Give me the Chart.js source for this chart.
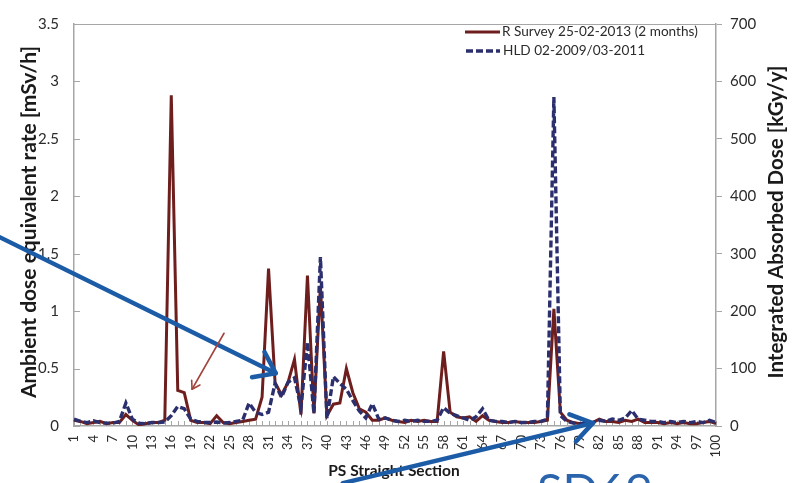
<!DOCTYPE html>
<html>
<head>
<meta charset="utf-8">
<script src="https://cdn.jsdelivr.net/npm/chart.js@4/dist/chart.umd.min.js"></script>
<style>
  html, body { margin: 0; padding: 0; background: #ffffff; }
  #wrap { width: 792px; height: 483px; position: relative; }
</style>
</head>
<body>
<div id="wrap"><canvas id="c" width="792" height="483"></canvas></div>
<script>
// PS straight sections 1..100
const sections = Array.from({ length: 100 }, (_, i) => String(i + 1));

// Ambient dose equivalent rate, radiation survey 25-02-2013 [mSv/h]
const rSurvey = [
  0.05, 0.04, 0.02, 0.03, 0.04, 0.02, 0.03, 0.03, 0.10, 0.05,
  0.01, 0.02, 0.03, 0.03, 0.05, 2.88, 0.31, 0.29, 0.05, 0.03,
  0.03, 0.02, 0.09, 0.03, 0.02, 0.03, 0.04, 0.05, 0.06, 0.25,
  1.37, 0.38, 0.27, 0.38, 0.58, 0.10, 1.31, 0.11, 1.22, 0.09,
  0.19, 0.20, 0.50, 0.29, 0.15, 0.12, 0.05, 0.05, 0.07, 0.05,
  0.04, 0.03, 0.05, 0.04, 0.05, 0.04, 0.04, 0.65, 0.12, 0.08,
  0.07, 0.08, 0.04, 0.09, 0.05, 0.04, 0.03, 0.03, 0.04, 0.03,
  0.03, 0.03, 0.04, 0.05, 1.02, 0.12, 0.05, 0.03, 0.02, 0.02,
  0.03, 0.06, 0.04, 0.04, 0.03, 0.05, 0.04, 0.06, 0.03, 0.03,
  0.03, 0.02, 0.03, 0.02, 0.03, 0.02, 0.02, 0.03, 0.04, 0.02
];

// Integrated absorbed dose, HLD 02-2009 / 03-2011 [kGy/y]
const hld = [
  12, 8, 6, 9, 6, 5, 5, 8, 40, 12,
  5, 4, 6, 6, 7, 18, 34, 30, 12, 8,
  6, 6, 7, 5, 6, 8, 10, 40, 24, 20,
  24, 74, 50, 76, 84, 32, 146, 22, 294, 13,
  86, 74, 64, 44, 26, 14, 39, 12, 14, 10,
  8, 10, 8, 10, 8, 8, 10, 32, 22, 18,
  14, 10, 16, 30, 10, 8, 8, 6, 8, 6,
  6, 8, 8, 12, 573, 18, 8, 5, 4, 4,
  6, 10, 8, 12, 10, 14, 27, 12, 10, 8,
  8, 6, 8, 6, 8, 6, 8, 6, 10, 6
];

const seriesNames = ['R Survey 25-02-2013 (2 months)', 'HLD 02-2009/03-2011'];
const leftTicks = [0, 0.5, 1, 1.5, 2, 2.5, 3, 3.5];
const rightTicks = [0, 100, 200, 300, 400, 500, 600, 700];

// Call-out arrows: tip anchored to a section / dose rate
const callouts = [
  { section: 32.1, rate: 0.46, dx: -276, dy: -136, color: '#1c5ba6', width: 4.5, head: 24, spread: 36 },
  { section: 81.0, rate: 0.025, dx: -250, dy: 60, color: '#1c5ba6', width: 4.5, head: 25, spread: 34 },
  { section: 19.2, rate: 0.32, dx: 32, dy: -56, color: '#a2453f', width: 1.6, head: 9, spread: 32 }
];

const FONT = 'Lato, "Open Sans", "DejaVu Sans", sans-serif';
const AXIS_GRAY = '#a6a6a6';
const TEXT = '#2b2b2b';
const RED = '#6e1f1d';
const NAVY = '#2c2f6e';

function drawArrow(ctx, tx, ty, a) {
  const sx = tx + a.dx, sy = ty + a.dy;
  const ang = Math.atan2(ty - sy, tx - sx);
  ctx.save();
  ctx.strokeStyle = a.color;
  ctx.lineWidth = a.width;
  ctx.lineCap = 'round';
  ctx.lineJoin = 'round';
  ctx.beginPath();
  ctx.moveTo(sx, sy);
  ctx.lineTo(tx, ty);
  ctx.stroke();
  const sp = a.spread * Math.PI / 180;
  ctx.beginPath();
  ctx.moveTo(tx - a.head * Math.cos(ang - sp), ty - a.head * Math.sin(ang - sp));
  ctx.lineTo(tx, ty);
  ctx.lineTo(tx - a.head * Math.cos(ang + sp), ty - a.head * Math.sin(ang + sp));
  ctx.stroke();
  ctx.restore();
}

const decor = {
  id: 'decor',
  beforeDatasetsDraw(chart) {
    const { ctx, chartArea: ca, scales } = chart;
    ctx.save();
    ctx.strokeStyle = AXIS_GRAY;
    ctx.lineWidth = 1;
    // top frame line
    ctx.beginPath();
    ctx.moveTo(ca.left, ca.top + 0.5);
    ctx.lineTo(ca.right, ca.top + 0.5);
    ctx.stroke();
    // inward tick marks on the category axis
    ctx.beginPath();
    for (let i = 0; i < sections.length; i++) {
      const x = Math.round(scales.x.getPixelForValue(i)) + 0.5;
      ctx.moveTo(x, ca.bottom);
      ctx.lineTo(x, ca.bottom - 5);
    }
    // inward tick marks on the left axis
    leftTicks.forEach(v => {
      const y = Math.round(scales.y.getPixelForValue(v)) + 0.5;
      ctx.moveTo(ca.left, y);
      ctx.lineTo(ca.left + 6, y);
    });
    ctx.stroke();
    ctx.restore();
  },
  afterDraw(chart) {
    const { ctx, scales } = chart;
    ctx.save();
    // legend
    ctx.lineWidth = 3;
    ctx.strokeStyle = RED;
    ctx.beginPath();
    ctx.moveTo(465, 32); ctx.lineTo(500, 32);
    ctx.stroke();
    ctx.strokeStyle = NAVY;
    ctx.lineWidth = 3.4;
    ctx.setLineDash([7, 3]);
    ctx.beginPath();
    ctx.moveTo(466, 51); ctx.lineTo(500, 51);
    ctx.stroke();
    ctx.setLineDash([]);
    ctx.fillStyle = TEXT;
    ctx.font = '13.6px ' + FONT;
    ctx.textBaseline = 'middle';
    ctx.textAlign = 'left';
    ctx.fillText(seriesNames[0], 502, 32);
    ctx.fillText(seriesNames[1], 503, 51);

    // axis titles
    ctx.fillStyle = '#1a1a1a';
    ctx.font = 'bold 15.5px ' + FONT;
    ctx.textAlign = 'center';
    ctx.fillText('PS Straight Section', 394, 471);
    ctx.save();
    ctx.font = 'bold 21px ' + FONT;
    ctx.translate(29, 222);
    ctx.rotate(-Math.PI / 2);
    ctx.fillText('Ambient dose equivalent rate [mSv/h]', 0, 0);
    ctx.restore();
    ctx.save();
    ctx.font = 'bold 20.5px ' + FONT;
    ctx.translate(776, 222);
    ctx.rotate(-Math.PI / 2);
    ctx.fillText('Integrated Absorbed Dose [kGy/y]', 0, 0);
    ctx.restore();

    // section label at the bottom edge
    ctx.fillStyle = '#2a64ad';
    ctx.font = '47px ' + FONT;
    ctx.textAlign = 'left';
    ctx.textBaseline = 'alphabetic';
    ctx.fillText('SD69', 537, 507);

    // call-out arrows
    callouts.forEach(a => {
      const tx = scales.x.getPixelForValue(a.section - 1);
      const ty = scales.y.getPixelForValue(a.rate);
      drawArrow(ctx, tx, ty, a);
    });
    ctx.restore();
  }
};

new Chart(document.getElementById('c'), {
  type: 'line',
  data: {
    labels: sections,
    datasets: [
      {
        label: seriesNames[0],
        data: rSurvey,
        yAxisID: 'y',
        borderColor: RED,
        borderWidth: 3,
        pointRadius: 0,
        tension: 0,
        order: 2
      },
      {
        label: seriesNames[1],
        data: hld,
        yAxisID: 'y1',
        borderColor: NAVY,
        borderWidth: 3.4,
        borderDash: [7, 3],
        pointRadius: 0,
        tension: 0,
        order: 1
      }
    ]
  },
  options: {
    responsive: false,
    animation: false,
    devicePixelRatio: 1,
    layout: { padding: { top: 15, left: 0, right: 0, bottom: 0 } },
    plugins: { legend: { display: false }, tooltip: { enabled: false } },
    scales: {
      x: {
        type: 'category',
        offset: false,
        grid: { drawOnChartArea: false, drawTicks: false },
        border: { color: AXIS_GRAY, width: 1.5 },
        ticks: {
          autoSkip: false,
          maxRotation: 90,
          minRotation: 90,
          padding: 9,
          color: TEXT,
          font: { family: FONT, size: 13 },
          callback: (v, i) => (i % 3 === 0 ? sections[i] : '')
        },
        afterFit: s => { s.height = 57; }
      },
      y: {
        position: 'left',
        min: 0, max: 3.5,
        afterBuildTicks: s => { s.ticks = leftTicks.map(v => ({ value: v })); },
        grid: { drawOnChartArea: false, drawTicks: false },
        border: { color: AXIS_GRAY, width: 1.5 },
        ticks: {
          padding: 15,
          color: TEXT,
          font: { family: FONT, size: 15 },
          callback: v => String(v)
        },
        afterFit: s => { s.width = 74; }
      },
      y1: {
        position: 'right',
        min: 0, max: 700,
        afterBuildTicks: s => { s.ticks = rightTicks.map(v => ({ value: v })); },
        grid: { drawOnChartArea: false, drawTicks: true, tickLength: 6, color: AXIS_GRAY },
        border: { color: AXIS_GRAY, width: 1.5 },
        ticks: {
          padding: 8,
          color: TEXT,
          font: { family: FONT, size: 15 },
          callback: v => String(v)
        },
        afterFit: s => { s.width = 76; }
      }
    }
  },
  plugins: [decor]
});
</script>
</body>
</html>
